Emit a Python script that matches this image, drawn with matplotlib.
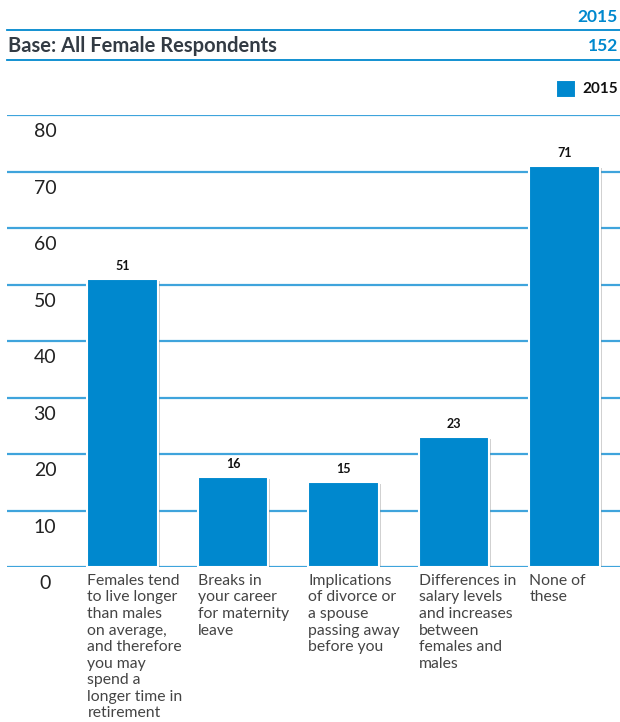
import matplotlib.pyplot as plt
import matplotlib.patheffects as pe

plt.rcParams['font.family'] = ['Lato', 'DejaVu Sans']

categories = [
    "Females tend\nto live longer\nthan males\non average,\nand therefore\nyou may\nspend a\nlonger time in\nretirement",
    "Breaks in\nyour career\nfor maternity\nleave",
    "Implications\nof divorce or\na spouse\npassing away\nbefore you",
    "Differences in\nsalary levels\nand increases\nbetween\nfemales and\nmales",
    "None of\nthese",
]
values_2015 = [51, 16, 15, 23, 71]
yticks = [0, 10, 20, 30, 40, 50, 60, 70, 80]
series_name = "2015"
base_label = "Base: All Female Respondents"
base_n = 152

blue = '#0088ce'
grid_blue = '#3fa4dc'

W, H = 620, 722
fig = plt.figure(figsize=(W / 100, H / 100), dpi=100)

# header rows
fig.text(618 / W, 1 - 17 / H, series_name, ha='right', va='center',
         color=blue, fontsize=12.5, fontweight='bold')
fig.text(8 / W, 1 - 46 / H, base_label, ha='left', va='center',
         color='#333b44', fontsize=14.5, fontweight='bold')
fig.text(618 / W, 1 - 46 / H, str(base_n), ha='right', va='center',
         color=blue, fontsize=12.5, fontweight='bold')
for yp in (30, 60):
    fig.add_artist(plt.Line2D([7 / W, 1], [1 - yp / H] * 2, color=blue, lw=1.3))

# plot area: 0 at y=567px, 80 at y=115px
ax = fig.add_axes([7 / W, 1 - 567 / H, 613 / W, (567 - 115) / H])
ax.set_ylim(0, 80)
ax.set_xlim(-1.045, 4.502)
for s in ax.spines.values():
    s.set_visible(False)
ax.set_xticks([])
ax.set_yticks([])

for t in yticks:
    ax.axhline(t, color=grid_blue, lw=1.6, zorder=1)
    ax.annotate(str(t), xy=(38 / 613, t), xycoords=('axes fraction', 'data'),
                xytext=(0, -6), textcoords='offset points',
                ha='center', va='top', fontsize=14, color='#222222')

x = list(range(len(values_2015)))
bars = ax.bar(x, values_2015, width=0.635, color=blue, edgecolor='white',
              linewidth=1.5, zorder=3)
for b in bars:
    b.set_path_effects([pe.SimplePatchShadow(offset=(1.5, -1.5), shadow_rgbFace='#777777', alpha=0.35),
                        pe.Normal()])

for xi, v in zip(x, values_2015):
    ax.annotate(str(v), xy=(xi, v), xytext=(0, 5), textcoords='offset points',
                ha='center', va='bottom', fontsize=9, fontweight='bold', color='#111111')

for xi, lab in zip(x, categories):
    ax.annotate(lab, xy=(xi - 0.317, 0), xytext=(0, -5), textcoords='offset points',
                ha='left', va='top', fontsize=11.3, color='#444444', linespacing=1.23)

# legend
fig.patches.append(plt.Rectangle((556 / W, 1 - 98 / H), 20 / W, 18 / H,
                                 transform=fig.transFigure, facecolor=blue,
                                 edgecolor='white', lw=1.5,
                                 path_effects=[pe.SimplePatchShadow(offset=(1, -1), alpha=0.35), pe.Normal()]))
fig.text(582 / W, 1 - 89 / H, series_name, ha='left', va='center',
         fontsize=11, fontweight='bold', color='#111111')

fig.savefig('out.png', dpi=100)
